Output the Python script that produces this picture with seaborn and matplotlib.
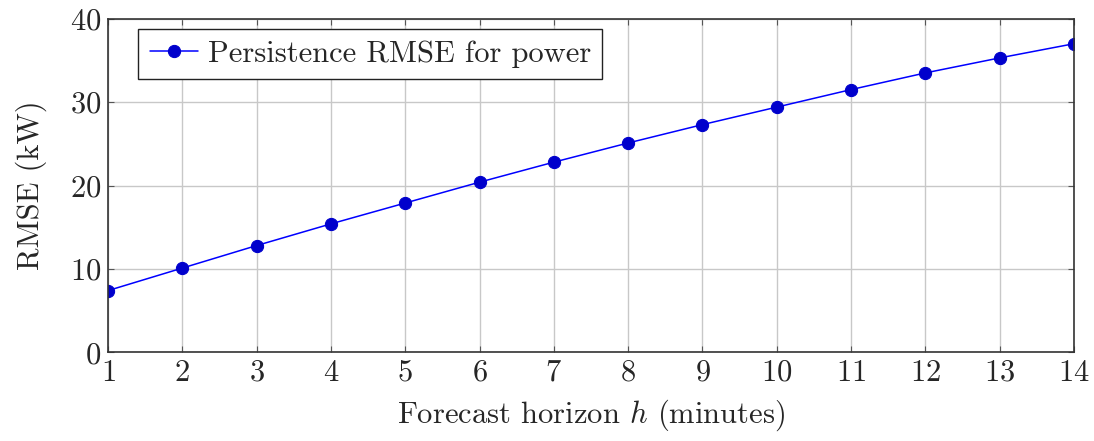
import matplotlib
matplotlib.use("Agg")
import matplotlib.pyplot as plt
import seaborn as sns
import pandas as pd

# Forecast horizon (minutes) and the persistence-model RMSE of power (kW)
horizon = [1, 2, 3, 4, 5, 6, 7, 8, 9, 10, 11, 12, 13, 14]
rmse_kw = [7.4, 10.1, 12.8, 15.4, 17.9, 20.4, 22.8, 25.1, 27.3, 29.4, 31.5, 33.5, 35.3, 37.0]
series_label = "Persistence RMSE for power"
x_ticks = list(range(1, 15))
y_ticks = [0, 10, 20, 30, 40]

sns.set_theme(style="white")
plt.rcParams.update({
    "font.family": "serif",
    "font.serif": ["cmr10"],
    "mathtext.fontset": "cm",
    "axes.formatter.use_mathtext": True,
    "axes.unicode_minus": False,
})

df = pd.DataFrame({"h": horizon, "rmse": rmse_kw})

fig = plt.figure(figsize=(10.94, 4.41), dpi=100)
ax = fig.add_axes([0.0987, 0.2011, 0.883, 0.7565])

sns.lineplot(data=df, x="h", y="rmse", ax=ax, color="#0000ff", linewidth=1.1,
             marker="o", markersize=8.8, markerfacecolor="#0000cc",
             markeredgecolor="#0000cc", label=series_label)

ax.set_xlim(1, 14)
ax.set_ylim(0, 40)
ax.set_xticks(x_ticks)
ax.set_yticks(y_ticks)
ax.grid(True, color="#c8c8c8", linewidth=1.0)
ax.set_axisbelow(True)

for s in ax.spines.values():
    s.set_color("#333333")
    s.set_linewidth(1.2)

ax.tick_params(axis="both", which="major", direction="in", length=4, width=0.8,
               color="#555555", top=True, right=True, bottom=True, left=True,
               labelsize=22, pad=5)

ax.set_xlabel("Forecast horizon $h$ (minutes)", fontsize=22, labelpad=8)
ax.set_ylabel("RMSE (kW)", fontsize=22, labelpad=16)

leg = ax.legend(loc="upper left", bbox_to_anchor=(0.031, 0.97), borderaxespad=0,
                fontsize=22, frameon=True, fancybox=False, edgecolor="#222222",
                handlelength=1.6, handletextpad=0.3, borderpad=0.38)
leg.get_frame().set_linewidth(1.0)
leg.get_frame().set_alpha(1)

fig.savefig("out.png", dpi=100)
